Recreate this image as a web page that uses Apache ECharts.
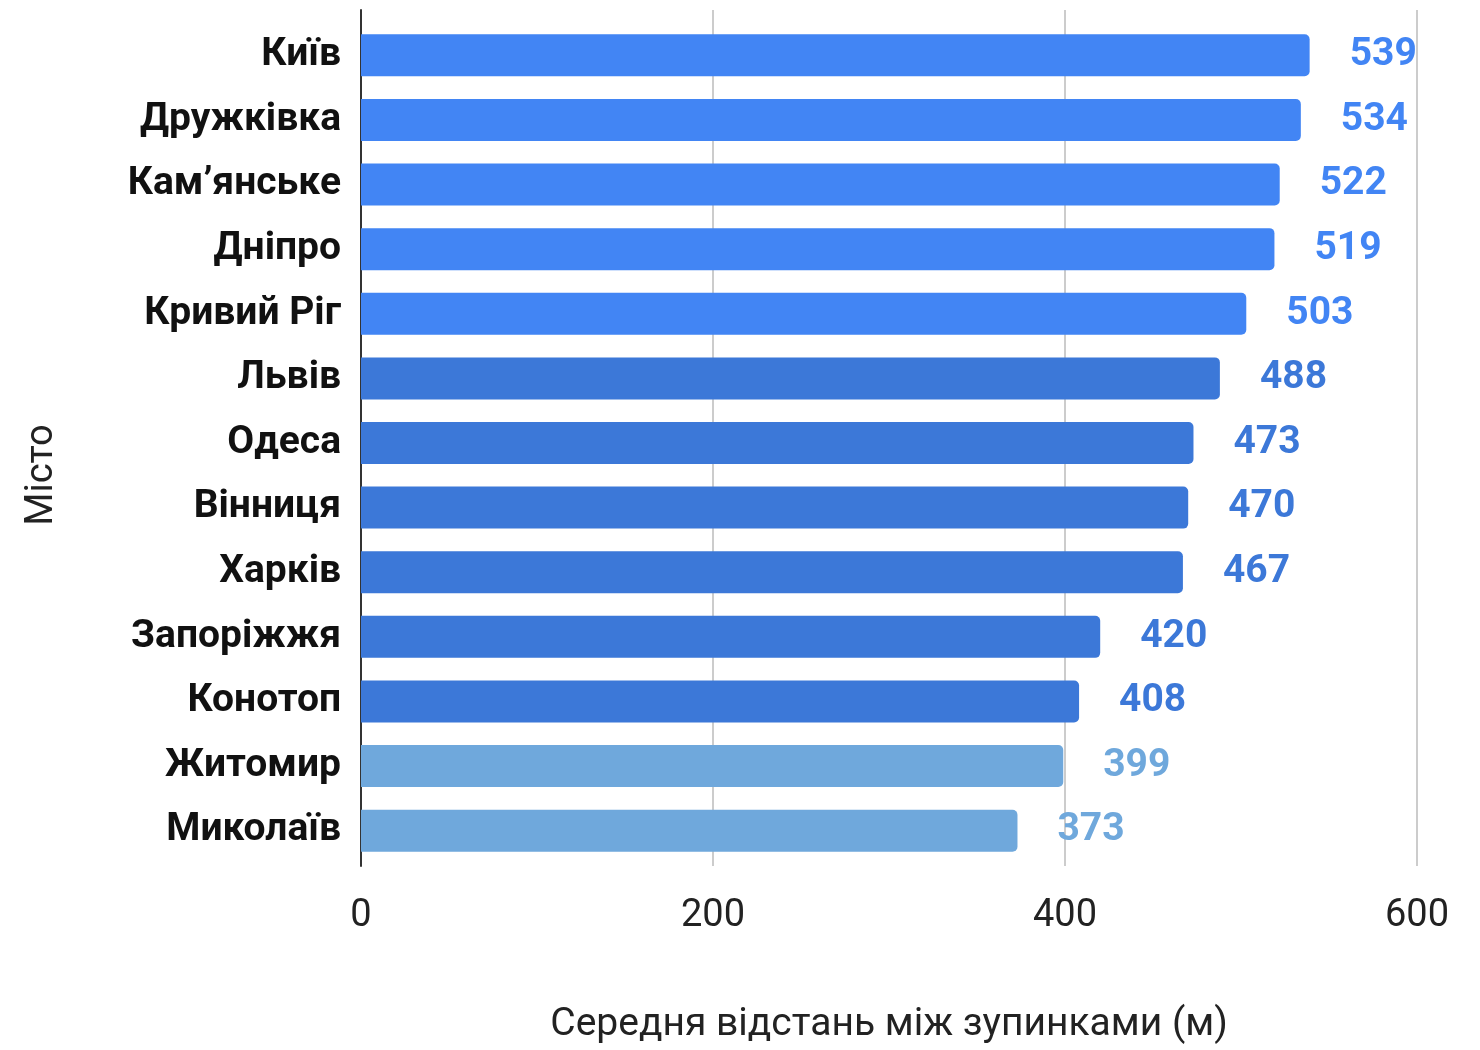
<!DOCTYPE html>
<html><head><meta charset="utf-8">
<script src="https://cdn.jsdelivr.net/npm/echarts@6/dist/echarts.min.js"></script>
<style>html,body{margin:0;padding:0;background:#fff}#c{width:1480px;height:1050px}</style>
</head><body><div id="c"></div>
<script>
const cities = ['Київ','Дружківка','Кам’янське','Дніпро','Кривий Ріг','Львів','Одеса','Вінниця','Харків','Запоріжжя','Конотоп','Житомир','Миколаїв'];
const distances = [539,534,522,519,503,488,473,470,467,420,408,399,373];
const xTicks = [0,200,400,600];
const xTitle = 'Середня відстань між зупинками (м)';
const yTitle = 'Місто';

function colorOf(i){ return i < 5 ? '#4285F4' : (i < 11 ? '#3C78D8' : '#6FA8DC'); }

const chart = echarts.init(document.getElementById('c'));
const FONT = 'Roboto';
chart.setOption({
  animation:false,
  backgroundColor:'#fff',
  grid:[
    {left:361, right:63, top:10, bottom:177},
    {left:361, right:63, top:23, height:840}
  ],
  xAxis:[
    {gridIndex:0, type:'value', min:xTicks[0], max:xTicks[xTicks.length-1], interval:200,
     axisLine:{show:false}, axisTick:{show:false},
     splitLine:{show:true, lineStyle:{color:'#cccccc', width:2}},
     axisLabel:{color:'#222', fontSize:38, fontFamily:FONT, margin:31},
     name:xTitle, nameLocation:'middle', nameGap:140,
     nameTextStyle:{color:'#222', fontSize:39, fontFamily:FONT}},
    {gridIndex:1, type:'value', min:xTicks[0], max:xTicks[xTicks.length-1], show:false}
  ],
  yAxis:[
    {gridIndex:0, type:'category', data:[''],
     axisLine:{show:true, lineStyle:{color:'#333', width:2}},
     axisTick:{show:false}, axisLabel:{show:false}, splitLine:{show:false}},
    {gridIndex:1, type:'category', data:cities, inverse:true,
     axisLine:{show:false}, axisTick:{show:false},
     axisLabel:{color:'#111', fontSize:39, fontWeight:'bold', fontFamily:FONT, margin:20, padding:[8,0,0,0]},
     name:yTitle, nameLocation:'middle', nameGap:300, nameRotate:90,
     nameTextStyle:{color:'#222', fontSize:38, fontFamily:FONT, padding:[0,64,0,0]}}
  ],
  series:[{
    type:'bar', xAxisIndex:1, yAxisIndex:1,
    data:distances.map((v,i)=>({value:v, itemStyle:{color:colorOf(i)}, label:{color:colorOf(i)}})),
    barWidth:42,
    itemStyle:{borderRadius:[0,5,5,0]},
    label:{show:true, position:'right', distance:40, fontSize:39, fontWeight:'bold', fontFamily:FONT, padding:[8,0,0,0]}
  }]
});
</script></body></html>
